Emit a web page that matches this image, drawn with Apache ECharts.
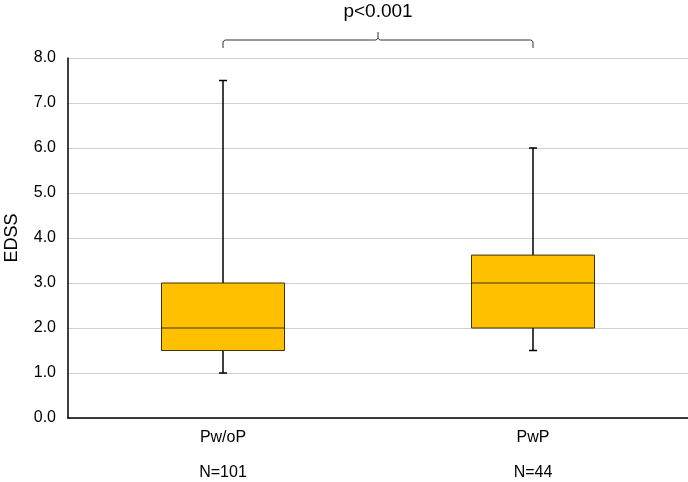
<!DOCTYPE html>
<html>
<head>
<meta charset="utf-8">
<script src="https://cdn.jsdelivr.net/npm/echarts@6/dist/echarts.min.js"></script>
<style>
  html, body { margin: 0; padding: 0; background: #fff; }
  #chart { width: 688px; height: 482px; }
</style>
</head>
<body>
<div id="chart"></div>
<script>
// categories and group sizes
var categories = ['Pw/oP', 'PwP'];
var nLabels = ['N=101', 'N=44'];
// box statistics (EDSS)
var minVals = [1.0, 1.5];
var q1Vals = [1.5, 2.0];
var medianVals = [2.0, 3.0];
var q3Vals = [3.0, 3.62];
var maxVals = [7.5, 6.0];
var pText = 'p<0.001';

var chart = echarts.init(document.getElementById('chart'));

var boxData = categories.map(function (c, i) {
  return [i, minVals[i], q1Vals[i], medianVals[i], q3Vals[i], maxVals[i]];
});

function renderBox(params, api) {
  var i = api.value(0);
  var pMin = api.coord([i, api.value(1)]);
  var pQ1 = api.coord([i, api.value(2)]);
  var pMed = api.coord([i, api.value(3)]);
  var pQ3 = api.coord([i, api.value(4)]);
  var pMax = api.coord([i, api.value(5)]);
  var bw = 123, cap = 4;
  var x = pMed[0];
  var lineStyle = { stroke: '#000', lineWidth: 1.5 };
  return {
    type: 'group',
    children: [
      { type: 'line', shape: { x1: x, y1: pQ3[1], x2: x, y2: pMax[1] }, style: lineStyle },
      { type: 'line', shape: { x1: x - cap, y1: pMax[1], x2: x + cap, y2: pMax[1] }, style: lineStyle },
      { type: 'line', shape: { x1: x, y1: pQ1[1], x2: x, y2: pMin[1] }, style: lineStyle },
      { type: 'line', shape: { x1: x - cap, y1: pMin[1], x2: x + cap, y2: pMin[1] }, style: lineStyle },
      { type: 'rect', shape: { x: x - bw / 2, y: pQ3[1], width: bw, height: pQ1[1] - pQ3[1] },
        style: { fill: '#FFC000', stroke: '#3f3300', lineWidth: 1 } },
      { type: 'line', shape: { x1: x - bw / 2, y1: pMed[1], x2: x + bw / 2, y2: pMed[1] },
        style: { stroke: '#3f3300', lineWidth: 1 } }
    ]
  };
}

chart.setOption({
  animation: false,
  textStyle: { fontFamily: 'Liberation Sans, Arial, sans-serif' },
  grid: { left: 68, right: 0, top: 58, bottom: 64, outerBoundsMode: 'none', containLabel: false },
  xAxis: {
    type: 'category',
    data: categories,
    axisLine: { lineStyle: { color: '#000', width: 1.5 } },
    axisTick: { show: false },
    axisLabel: {
      margin: 11,
      color: '#000',
      fontSize: 16,
      formatter: function (v, idx) { return v + '\n\n' + nLabels[idx]; },
      lineHeight: 17.5
    }
  },
  yAxis: {
    type: 'value',
    min: 0,
    max: 8,
    interval: 1,
    name: 'EDSS',
    nameLocation: 'middle',
    nameGap: 47,
    nameTextStyle: { color: '#000', fontSize: 18 },
    axisLine: { show: true, lineStyle: { color: '#000', width: 1.5 } },
    axisTick: { show: false },
    axisLabel: {
      color: '#000',
      fontSize: 16,
      margin: 12,
      formatter: function (v) { return v.toFixed(1); }
    },
    splitLine: { lineStyle: { color: '#d0d0d0', width: 1 } }
  },
  series: [{
    type: 'custom',
    renderItem: renderBox,
    encode: { x: 0, y: [1, 2, 3, 4, 5] },
    data: boxData,
    z: 3
  }]
});

// significance bracket between the two groups
var xa = chart.convertToPixel({ xAxisIndex: 0 }, categories[0]);
var xb = chart.convertToPixel({ xAxisIndex: 0 }, categories[1]);
var xm = (xa + xb) / 2;
var yh = 40, yEnd = 48, yTip = 32;
var braceStyle = { fill: null, stroke: '#333', lineWidth: 1 };

chart.setOption({
  graphic: [
    {
      type: 'polyline',
      shape: { points: [[xa, yEnd], [xa, yh + 2], [xa + 1, yh + 0.6], [xa + 2.5, yh], [xm - 2.5, yh], [xm - 1, yh - 0.6], [xm, yh - 2], [xm, yTip]] },
      style: braceStyle
    },
    {
      type: 'polyline',
      shape: { points: [[xm, yh - 2], [xm + 1, yh - 0.6], [xm + 2.5, yh], [xb - 2.5, yh], [xb - 1, yh + 0.6], [xb, yh + 2], [xb, yEnd]] },
      style: braceStyle
    },
    {
      type: 'text',
      x: xm,
      y: 12,
      style: {
        text: pText,
        fill: '#000',
        font: '19px Liberation Sans, Arial, sans-serif',
        align: 'center',
        verticalAlign: 'middle'
      }
    }
  ]
});
</script>
</body>
</html>
